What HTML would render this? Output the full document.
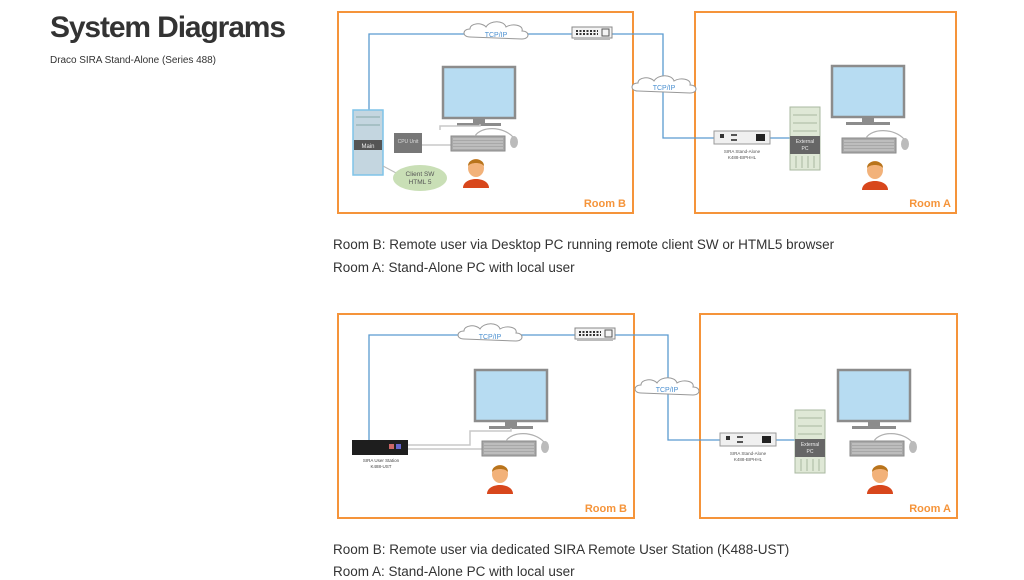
<!DOCTYPE html>
<html><head><meta charset="utf-8"><style>
html,body{margin:0;padding:0;background:#fff;width:1024px;height:580px;overflow:hidden}
svg{display:block}
</style></head><body>
<svg width="1024" height="580" viewBox="0 0 1024 580" xmlns="http://www.w3.org/2000/svg" font-family="Liberation Sans, sans-serif">
<defs>
<g id="mon">
<rect x="0" y="0" width="72" height="51" fill="#b7dcf2" stroke="#8c8c8c" stroke-width="2.5"/>
<rect x="30" y="51" width="12" height="5" fill="#8c8c8c"/>
<rect x="14" y="56" width="44" height="3" fill="#8c8c8c"/>
</g>
<g id="kb">
<rect x="0" y="0" width="54" height="15" fill="#a8a8a8" stroke="#8a8a8a"/>
<path d="M2 3h50M2 6h50M2 9h50M2 12h50" stroke="#e0e0e0" stroke-width="0.8"/>
<path d="M24 0 C30 -10 52 -10 62 1" fill="none" stroke="#b0b0b0" stroke-width="1.2"/>
<ellipse cx="63" cy="6" rx="4" ry="6" fill="#bbb"/>
</g>
<g id="person">
<path d="M-13 14 C-13 2 13 2 13 14 Z" fill="#d8471c"/>
<rect x="-4" y="0" width="8" height="4" fill="#fff"/>
<ellipse cx="0" cy="-6" rx="8" ry="9" fill="#f2b27a"/>
<path d="M-8 -8 C-8 -17 8 -17 8 -8 C5 -12 -5 -12 -8 -8Z" fill="#b8741c"/>
</g>
<g id="cloud">
<path d="M-26 4 C-34 4 -34 -4 -26 -4 C-26 -10 -14 -11 -10 -6 C-6 -13 8 -13 10 -6 C16 -10 28 -8 26 -2 C34 -2 34 6 26 6 Z" fill="#fff" stroke="#999" stroke-width="1"/>
</g>
<g id="sw">
<rect x="0" y="0" width="40" height="11" fill="#f4f4f4" stroke="#888"/>
<path d="M4 4h22M4 7h22" stroke="#333" stroke-width="2" stroke-dasharray="2 1.5"/>
<rect x="30" y="2" width="7" height="7" fill="none" stroke="#555"/>
<rect x="2" y="11" width="36" height="2" fill="#bbb"/>
</g>
<g id="sira">
<rect x="0" y="0" width="56" height="13" fill="#f0f0f0" stroke="#999"/>
<rect x="6" y="3" width="4" height="4" fill="#333"/>
<rect x="17" y="3" width="6" height="2" fill="#555"/><rect x="17" y="8" width="6" height="2" fill="#555"/>
<rect x="42" y="3" width="9" height="7" fill="#222"/>
</g>
<g id="extpc">
<rect x="0" y="0" width="30" height="63" fill="#dfe8d6" stroke="#aab8a0"/>
<path d="M3 8h24M3 16h24M3 24h24" stroke="#aab8a0"/>
<rect x="0" y="29" width="30" height="18" fill="#666"/>
<text x="15" y="36" font-size="5" fill="#eee" text-anchor="middle">External</text>
<text x="15" y="43" font-size="5" fill="#eee" text-anchor="middle">PC</text>
<path d="M6 49v12M12 49v12M18 49v12M24 49v12" stroke="#aab8a0"/>
</g>
</defs>

<text x="50" y="37" font-size="30" font-weight="bold" fill="#333" textLength="236">System Diagrams</text>
<text x="50" y="63" font-size="10" fill="#333" textLength="166">Draco SIRA Stand-Alone (Series 488)</text>

<!-- Diagram 1 -->
<rect x="338" y="12" width="295" height="201" fill="none" stroke="#f5943a" stroke-width="2"/>
<rect x="695" y="12" width="261" height="201" fill="none" stroke="#f5943a" stroke-width="2"/>
<path d="M369 110V34H663V138H714 M770 138H790" fill="none" stroke="#5b9bd0" stroke-width="1.3"/>
<use href="#cloud" x="496" y="33"/>
<text x="496" y="37" font-size="7" fill="#4a8fd0" text-anchor="middle">TCP/IP</text>
<use href="#sw" x="572" y="27"/>
<use href="#cloud" x="664" y="87"/>
<text x="664" y="90" font-size="7" fill="#4a8fd0" text-anchor="middle">TCP/IP</text>
<use href="#mon" x="443" y="67"/>
<path d="M440 130V126H480V124 M422 145H451" fill="none" stroke="#c8c8c8" stroke-width="1.5"/>
<use href="#kb" x="451" y="136"/>
<use href="#person" x="476" y="174"/>
<rect x="353" y="110" width="30" height="65" fill="#c4d6e0" stroke="#7fc4e8" stroke-width="1.5"/>
<path d="M356 117h24M356 125h24" stroke="#8aa"/>
<rect x="354" y="140" width="28" height="10" fill="#555"/>
<text x="368" y="148" font-size="6" fill="#eee" text-anchor="middle">Main</text>
<rect x="394" y="133" width="28" height="20" fill="#777"/>
<text x="408" y="143" font-size="5" fill="#ddd" text-anchor="middle">CPU Unit</text>
<line x1="383" y1="166" x2="398" y2="174" stroke="#bbb"/>
<ellipse cx="420" cy="178" rx="27" ry="13" fill="#c9dfb6"/>
<text x="420" y="176" font-size="6.5" fill="#555" text-anchor="middle">Client SW</text>
<text x="420" y="184" font-size="6.5" fill="#555" text-anchor="middle">HTML 5</text>
<text x="626" y="207" font-size="11" font-weight="bold" fill="#f5943a" text-anchor="end">Room B</text>
<use href="#sira" x="714" y="131"/>
<text x="742" y="153" font-size="4.5" fill="#555" text-anchor="middle">SIRA Stand-Alone</text>
<text x="742" y="159" font-size="4.5" fill="#555" text-anchor="middle">K488-BIPHHL</text>
<use href="#extpc" x="790" y="107"/>
<use href="#mon" x="832" y="66"/>
<use href="#kb" x="842" y="138"/>
<use href="#person" x="875" y="176"/>
<text x="951" y="207" font-size="11" font-weight="bold" fill="#f5943a" text-anchor="end">Room A</text>

<text x="333" y="249" font-size="13.5" fill="#333">Room B: Remote user via Desktop PC running remote client SW or HTML5 browser</text>
<text x="333" y="272" font-size="13.5" fill="#333">Room A: Stand-Alone PC with local user</text>

<!-- Diagram 2 -->
<rect x="338" y="314" width="296" height="204" fill="none" stroke="#f5943a" stroke-width="2"/>
<rect x="700" y="314" width="257" height="204" fill="none" stroke="#f5943a" stroke-width="2"/>
<path d="M369 440V335H668V440H720 M775 440H795" fill="none" stroke="#5b9bd0" stroke-width="1.3"/>
<use href="#cloud" x="490" y="335"/>
<text x="490" y="339" font-size="7" fill="#4a8fd0" text-anchor="middle">TCP/IP</text>
<use href="#sw" x="575" y="328"/>
<use href="#cloud" x="667" y="389"/>
<text x="667" y="392" font-size="7" fill="#4a8fd0" text-anchor="middle">TCP/IP</text>
<use href="#mon" x="475" y="370"/>
<path d="M408 445H470V431H511V428 M408 449H482" fill="none" stroke="#c8c8c8" stroke-width="1.5"/>
<use href="#kb" x="482" y="441"/>
<use href="#person" x="500" y="480"/>
<rect x="352" y="440" width="56" height="15" fill="#1e1e1e"/>
<rect x="389" y="444" width="5" height="5" fill="#c66"/><rect x="396" y="444" width="5" height="5" fill="#66c"/>
<text x="381" y="462" font-size="4.5" fill="#444" text-anchor="middle">SIRA User Station</text>
<text x="381" y="468" font-size="4.5" fill="#444" text-anchor="middle">K488-UST</text>
<text x="627" y="512" font-size="11" font-weight="bold" fill="#f5943a" text-anchor="end">Room B</text>
<use href="#sira" x="720" y="433"/>
<text x="748" y="455" font-size="4.5" fill="#555" text-anchor="middle">SIRA Stand-Alone</text>
<text x="748" y="461" font-size="4.5" fill="#555" text-anchor="middle">K488-BIPHHL</text>
<use href="#extpc" x="795" y="410"/>
<use href="#mon" x="838" y="370"/>
<use href="#kb" x="850" y="441"/>
<use href="#person" x="880" y="480"/>
<text x="951" y="512" font-size="11" font-weight="bold" fill="#f5943a" text-anchor="end">Room A</text>

<text x="333" y="554" font-size="13.5" fill="#333">Room B: Remote user via dedicated SIRA Remote User Station (K488-UST)</text>
<text x="333" y="576" font-size="13.5" fill="#333">Room A: Stand-Alone PC with local user</text>
</svg>
</body></html>
